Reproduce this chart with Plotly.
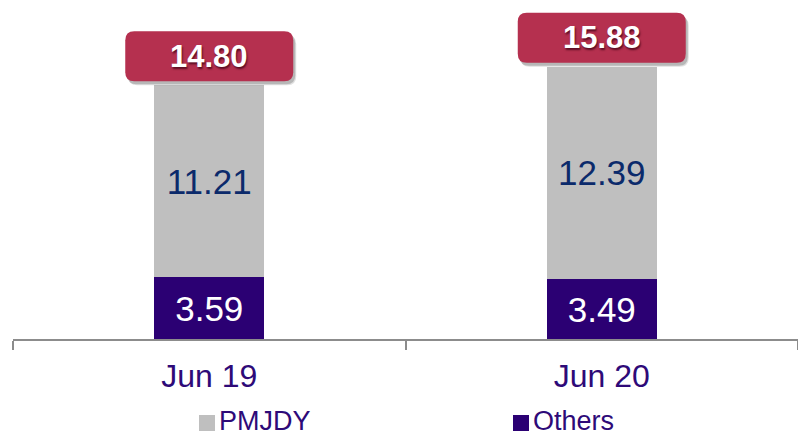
import plotly.graph_objects as go

# Deposits by account type (₹ lakh crore), stacked per period
periods = ["Jun 19", "Jun 20"]
others = [3.59, 3.49]
pmjdy = [11.21, 12.39]
totals = [14.80, 15.88]

OTHERS_COLOR = "#2B0073"
PMJDY_COLOR = "#BFBFBF"
BADGE_COLOR = "#B5304F"
LABEL_COLOR = "#2E0A78"
FONT = "Arial, Liberation Sans, sans-serif"

fig = go.Figure()
fig.add_trace(go.Bar(
    x=periods, y=others, name="Others",
    marker=dict(color=OTHERS_COLOR, line=dict(width=0)),
    text=[f"{v:.2f}" for v in others], textposition="inside",
    insidetextanchor="middle",
    textfont=dict(family=FONT, size=35, color="white"),
))
fig.add_trace(go.Bar(
    x=periods, y=pmjdy, name="PMJDY",
    marker=dict(color=PMJDY_COLOR, line=dict(width=0)),
    text=[f"{v:.2f}" for v in pmjdy], textposition="inside",
    insidetextanchor="middle",
    textfont=dict(family=FONT, size=35, color="#0B2A6B"),
))


def rounded_rect(x0, y0, x1, y1, r):
    return (f"M{x0 + r},{y0} L{x1 - r},{y0} Q{x1},{y0} {x1},{y0 + r} "
            f"L{x1},{y1 - r} Q{x1},{y1} {x1 - r},{y1} L{x0 + r},{y1} "
            f"Q{x0},{y1} {x0},{y1 - r} L{x0},{y0 + r} Q{x0},{y0} {x0 + r},{y0} Z")


shapes = []
annotations = []
for i, t in enumerate(totals):
    # soft drop shadow, then the badge holding the total
    for dx, dy, a in [(3, -4, 0.12), (2, -3, 0.18)]:
        shapes.append(dict(
            type="path", xref="x", yref="y", xsizemode="pixel", ysizemode="pixel",
            xanchor=i, yanchor=t, path=rounded_rect(-84 + dx, 4 + dy, 84 + dx, 54 + dy, 9),
            fillcolor=f"rgba(0,0,0,{a})", line=dict(width=0), layer="above",
        ))
    shapes.append(dict(
        type="path", xref="x", yref="y", xsizemode="pixel", ysizemode="pixel",
        xanchor=i, yanchor=t, path=rounded_rect(-84, 4, 84, 54, 9),
        fillcolor=BADGE_COLOR, line=dict(width=0), layer="above",
    ))
    annotations.append(dict(
        x=periods[i], y=t, xref="x", yref="y", yshift=29, showarrow=False,
        text=f"<b>{t:.2f}</b>",
        font=dict(family=FONT, size=31, color="white",
                  shadow="1px 2px 2px rgba(60,0,20,0.75)"),
    ))

# Legend: swatch + label, laid out below the axis
W, H, L, B = 798, 437, 13, 98
plot_w, plot_h = W - L, H - B


def px(x):
    return (x - L) / plot_w


def py(y):
    return (plot_h - y) / plot_h


legend_items = [("PMJDY", PMJDY_COLOR, 199), ("Others", OTHERS_COLOR, 513)]
for name, color, x0 in legend_items:
    shapes.append(dict(
        type="rect", xref="paper", yref="paper",
        x0=px(x0), x1=px(x0 + 16), y0=py(431), y1=py(415),
        fillcolor=color, line=dict(width=0),
    ))
    annotations.append(dict(
        x=px(x0 + 19), y=py(437), xref="paper", yref="paper",
        xanchor="left", yanchor="bottom", showarrow=False, text=name,
        borderpad=0,
        font=dict(family=FONT, size=27, color=LABEL_COLOR),
    ))

fig.update_layout(
    width=W, height=H, barmode="stack", bargap=0.72,
    margin=dict(l=L, r=0, t=0, b=B),
    paper_bgcolor="white", plot_bgcolor="white",
    showlegend=False, shapes=shapes, annotations=annotations,
    uniformtext=dict(mode=False),
    xaxis=dict(
        showline=True, linecolor="#8C8C8C", linewidth=2,
        ticks="outside", tickson="boundaries", ticklen=9, tickwidth=2,
        tickcolor="#8C8C8C", showgrid=False, zeroline=False,
        tickfont=dict(family=FONT, size=32, color=LABEL_COLOR),
        ticklabelstandoff=8,
        range=[-0.5, 1.5],
    ),
    yaxis=dict(visible=False, range=[0, plot_h / 17.15], showgrid=False, zeroline=False),
)

fig.write_html("out.html")
